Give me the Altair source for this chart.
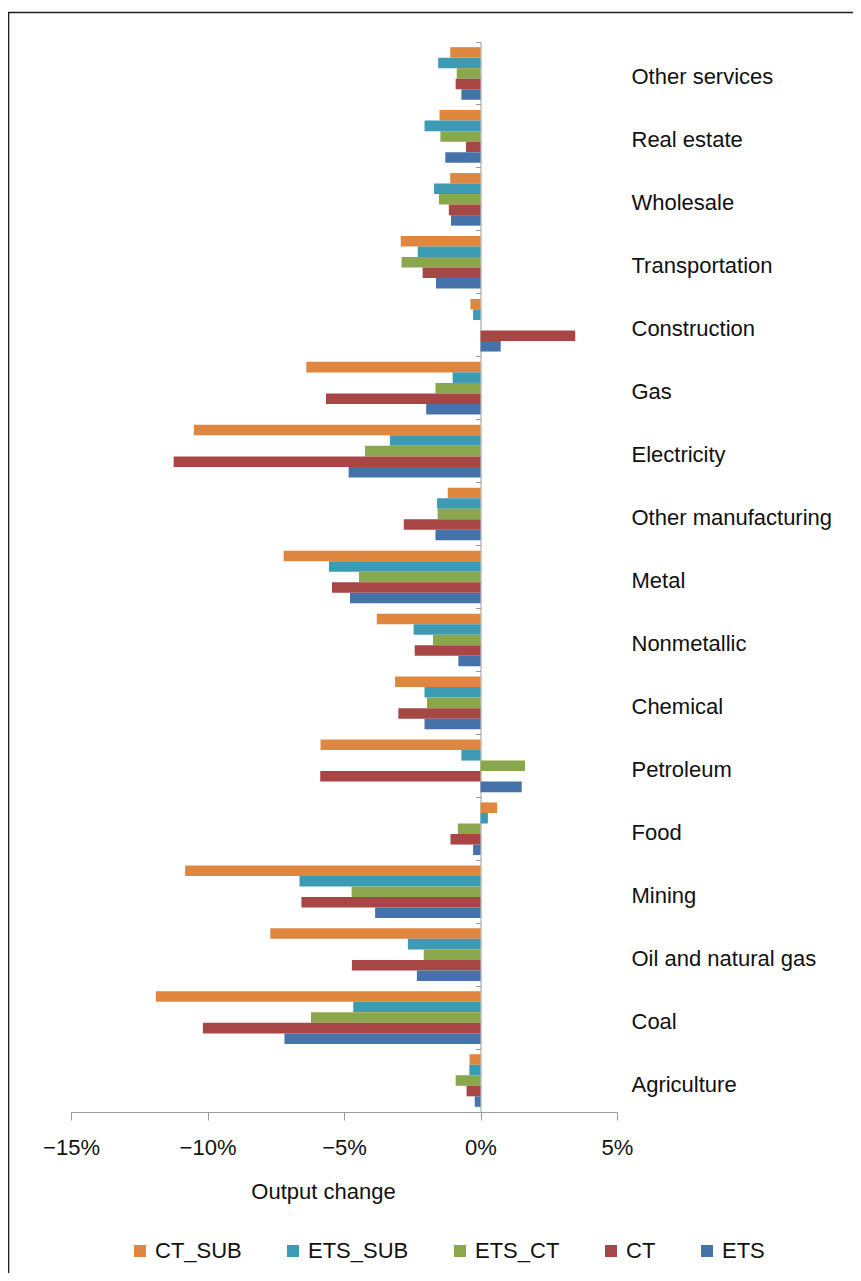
import altair as alt
import pandas as pd

sectors = ["Other services", "Real estate", "Wholesale", "Transportation", "Construction",
           "Gas", "Electricity", "Other manufacturing", "Metal", "Nonmetallic", "Chemical",
           "Petroleum", "Food", "Mining", "Oil and natural gas", "Coal", "Agriculture"]

series = ["CT_SUB", "ETS_SUB", "ETS_CT", "CT", "ETS"]
colors = ["#E0873F", "#3D9AB3", "#8AA74E", "#A84646", "#4572A9"]

ct_sub = [-1.11, -1.50, -1.11, -2.92, -0.37, -6.38, -10.50, -1.20, -7.21, -3.80, -3.13, -5.86, 0.61, -10.82, -7.70, -11.89, -0.40]
ets_sub = [-1.55, -2.05, -1.70, -2.30, -0.27, -1.02, -3.32, -1.59, -5.55, -2.45, -2.05, -0.70, 0.27, -6.63, -2.66, -4.66, -0.41]
ets_ct = [-0.87, -1.47, -1.52, -2.89, 0.0, -1.65, -4.23, -1.57, -4.45, -1.74, -1.96, 1.63, -0.83, -4.72, -2.08, -6.21, -0.91]
ct = [-0.91, -0.53, -1.16, -2.12, 3.47, -5.66, -11.24, -2.81, -5.44, -2.41, -3.01, -5.87, -1.10, -6.56, -4.71, -10.17, -0.51]
ets = [-0.70, -1.29, -1.08, -1.63, 0.74, -1.99, -4.83, -1.65, -4.78, -0.81, -2.05, 1.51, -0.27, -3.86, -2.33, -7.18, -0.21]

x_ticks = [-15, -10, -5, 0, 5]

rows = []
for name, vals in zip(series, [ct_sub, ets_sub, ets_ct, ct, ets]):
    for s, v in zip(sectors, vals):
        rows.append({"sector": s, "series": name, "value": v})
df = pd.DataFrame(rows)

FONT = "Liberation Sans"
GRAY = "#9a9a9a"

frame = alt.Chart(alt.Data(values=[{"a": 1}])).mark_rect(
    fillOpacity=0, stroke="#1e1e1e", strokeWidth=1.6
).encode(
    x=alt.value(-62.5), x2=alt.value(900), y=alt.value(-29.5), y2=alt.value(1400)
)

bars = alt.Chart(df).mark_bar().encode(
    x=alt.X("value:Q",
            scale=alt.Scale(domain=[-15, 5], nice=False, zero=False),
            axis=alt.Axis(values=x_ticks, labelExpr="format(datum.value/100, '.0%')",
                          grid=False, domainColor=GRAY, tickColor=GRAY, tickSize=8,
                          labelPadding=17, labelFlush=False, labelOverlap=False,
                          labelFontSize=22, labelFont=FONT,
                          labelColor="#111111",
                          title="Output change", titleFont=FONT, titleFontSize=22,
                          titleFontWeight="normal", titleColor="#111111",
                          titleX=252, titleY=86, titleBaseline="alphabetic",
                          titleAlign="center", titleAnchor="start")),
    y=alt.Y("sector:N", sort=sectors,
            scale=alt.Scale(paddingInner=0, paddingOuter=0),
            axis=alt.Axis(orient="left", offset=-409.5, labels=False, title=None,
                          domainColor=GRAY, tickColor=GRAY, tickSize=5,
                          bandPosition=0, grid=False)),
    yOffset=alt.YOffset("series:N", sort=series,
                        scale=alt.Scale(paddingInner=0, paddingOuter=0.49)),
    color=alt.Color("series:N", sort=series,
                    scale=alt.Scale(domain=series, range=colors),
                    legend=alt.Legend(title=None, orient="none", legendX=58, legendY=1198,
                                      direction="horizontal", columns=5,
                                      symbolType="square", symbolSize=144,
                                      symbolStrokeWidth=0, labelFontSize=22,
                                      labelFont=FONT, labelColor="#111111",
                                      labelOffset=4, columnPadding=40)),
)

labels = alt.Chart(df).mark_point(opacity=0).encode(
    y=alt.Y("sector:N", sort=sectors,
            axis=alt.Axis(orient="right", domain=False, ticks=False, title=None,
                          labelAlign="left", labelBaseline="middle", labelPadding=14,
                          labelOffset=4,
                          labelFontSize=22, labelFont=FONT, labelColor="#111111",
                          labelLimit=400, grid=False)),
)

chart = alt.layer(frame, bars, labels).resolve_axis(y="independent").properties(
    width=546, height=1070,
    autosize=alt.AutoSizeParams(type="none"),
    padding={"left": 63, "top": 34, "right": 236, "bottom": 161},
).configure_view(strokeWidth=0)

chart.save("out.html", embed_options={"renderer": "svg", "actions": False})
